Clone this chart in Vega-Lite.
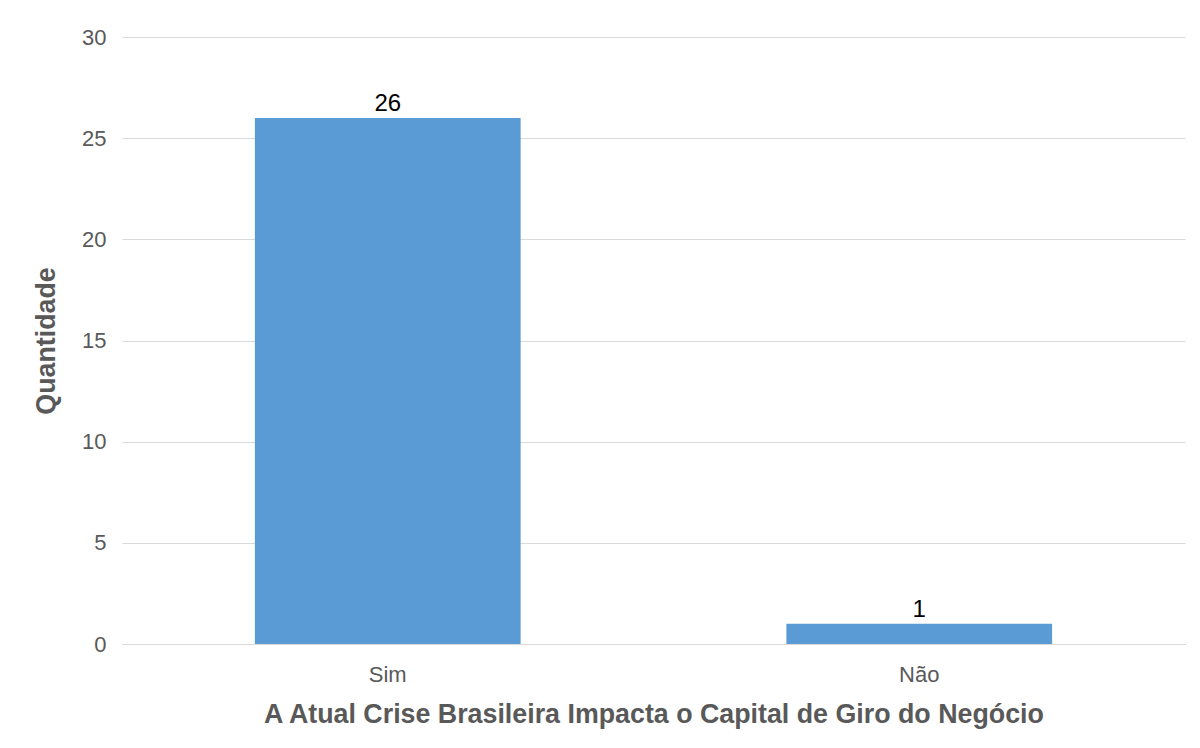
{
  "$schema": "https://vega.github.io/schema/vega-lite/v6.json",
  "width": 1063,
  "height": 607,
  "autosize": {"type": "none"},
  "padding": {"left": 122, "top": 37, "right": 15, "bottom": 104},
  "background": "white",
  "config": {
    "font": "Liberation Sans",
    "view": {"stroke": null}
  },
  "data": {
    "values": [
      {"resposta": "Sim", "quantidade": 26},
      {"resposta": "Não", "quantidade": 1}
    ]
  },
  "encoding": {
    "x": {
      "field": "resposta",
      "type": "nominal",
      "sort": ["Sim", "Não"],
      "scale": {"paddingInner": 0.5, "paddingOuter": 0.25},
      "axis": {
        "title": "A Atual Crise Brasileira Impacta o Capital de Giro do Negócio",
        "labelAngle": 0,
        "labelFontSize": 22,
        "labelColor": "#595959",
        "labelPadding": 20,
        "ticks": false,
        "domain": true,
        "domainColor": "#d9d9d9",
        "titleFontSize": 26.8,
        "titleFontWeight": "bold",
        "titleColor": "#595959",
        "titlePadding": 16
      }
    },
    "y": {
      "field": "quantidade",
      "type": "quantitative",
      "scale": {"domain": [0, 30]},
      "axis": {
        "title": "Quantidade",
        "values": [0, 5, 10, 15, 20, 25, 30],
        "labelFontSize": 22,
        "labelColor": "#595959",
        "labelPadding": 16,
        "ticks": false,
        "domain": false,
        "gridColor": "#d9d9d9",
        "titleFontSize": 26.8,
        "titleFontWeight": "bold",
        "titleColor": "#595959",
        "titlePadding": 21
      }
    }
  },
  "layer": [
    {"mark": {"type": "bar", "color": "#5B9BD5"}},
    {
      "mark": {"type": "text", "dy": -14, "fontSize": 24, "color": "#000000"},
      "encoding": {"text": {"field": "quantidade", "type": "quantitative"}}
    }
  ]
}
